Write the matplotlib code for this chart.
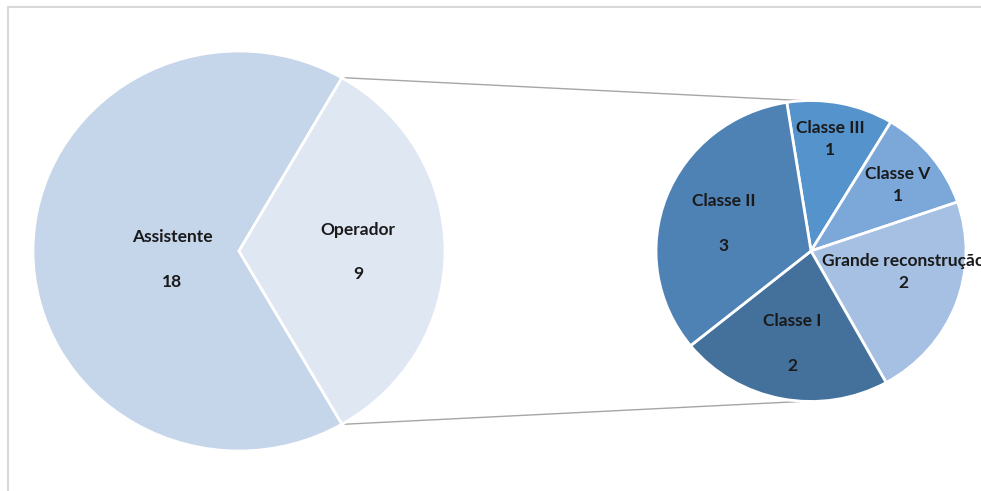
import numpy as np
import matplotlib
matplotlib.use("Agg")
import matplotlib.pyplot as plt
from matplotlib.patches import Rectangle

plt.rcParams['font.family'] = ['Lato', 'DejaVu Sans']

# Main pie: staff by role
main_labels = ["Assistente", "Operador"]
main_values = [18, 9]
main_colors = ["#C5D5EA", "#DFE7F3"]

# Secondary pie: breakdown of "Operador"
sub_labels = ["Classe III", "Classe V", "Grande reconstrução", "Classe I", "Classe II"]
sub_values = [1, 1, 2, 2, 3]
sub_colors = ["#5593CD", "#7BA7D9", "#A5C0E3", "#43719C", "#4E81B4"]

W, H = 981, 491
K = 1.03  # vertical squash of the pies


def py(y):
    """pixel row (top-down) -> data y"""
    return (H - y) * K


fig = plt.figure(figsize=(W / 100, H / 100), dpi=100)
ax = fig.add_axes([0, 0, 1, 1])
ax.set_axis_off()

# chart frame
ax.add_patch(Rectangle((8, py(500)), 1000, py(7) - py(500), fill=False,
                       edgecolor="#D9D9D9", linewidth=1.5, zorder=0))

main_c = (239, py(251))
main_r = 206
sub_c = (811, py(251))
sub_r = 155

# Operador wedge is centred on the right-hand side
op_share = main_values[1] / sum(main_values) * 360
ax.pie(main_values, colors=main_colors, center=main_c, radius=main_r,
       startangle=op_share / 2, counterclock=True,
       wedgeprops=dict(edgecolor="white", linewidth=2))

ax.pie(sub_values, colors=sub_colors, center=sub_c, radius=sub_r,
       startangle=99, counterclock=False,
       wedgeprops=dict(edgecolor="white", linewidth=2))

# connector lines from the Operador wedge to the secondary pie
a = np.deg2rad(op_share / 2)
x0 = main_c[0] + main_r * np.cos(a)
ytop = main_c[1] + main_r * np.sin(a)
ybot = main_c[1] - main_r * np.sin(a)
ax.plot([x0 + 3, sub_c[0] - 10], [ytop, sub_c[1] + sub_r], color="#A6A6A6", lw=1, zorder=0)
ax.plot([x0 + 3, sub_c[0] - 10], [ybot, sub_c[1] - sub_r], color="#A6A6A6", lw=1, zorder=0)

fs = 12.5
tk = dict(fontsize=fs, fontweight="bold", color="#1A1A1A", ha="center", va="center")

main_pos = [(172, 237, 282), (358, 230, 274)]
for lab, val, (x, y1, y2) in zip(main_labels, main_values, main_pos):
    ax.text(x, py(y1), lab, **tk)
    ax.text(x, py(y2), str(val), **tk)

sub_pos = [(830, 128, 150), (898, 174, 196), (903, 261, 283),
           (792, 321, 366), (724, 201, 246)]
for lab, val, (x, y1, y2) in zip(sub_labels, sub_values, sub_pos):
    ax.text(x, py(y1), lab, **tk)
    ax.text(x, py(y2), str(val), **tk)

ax.set_aspect("auto")
ax.set_xlim(0, W)
ax.set_ylim(0, H * K)

fig.savefig("out.png", dpi=100, facecolor="white")
